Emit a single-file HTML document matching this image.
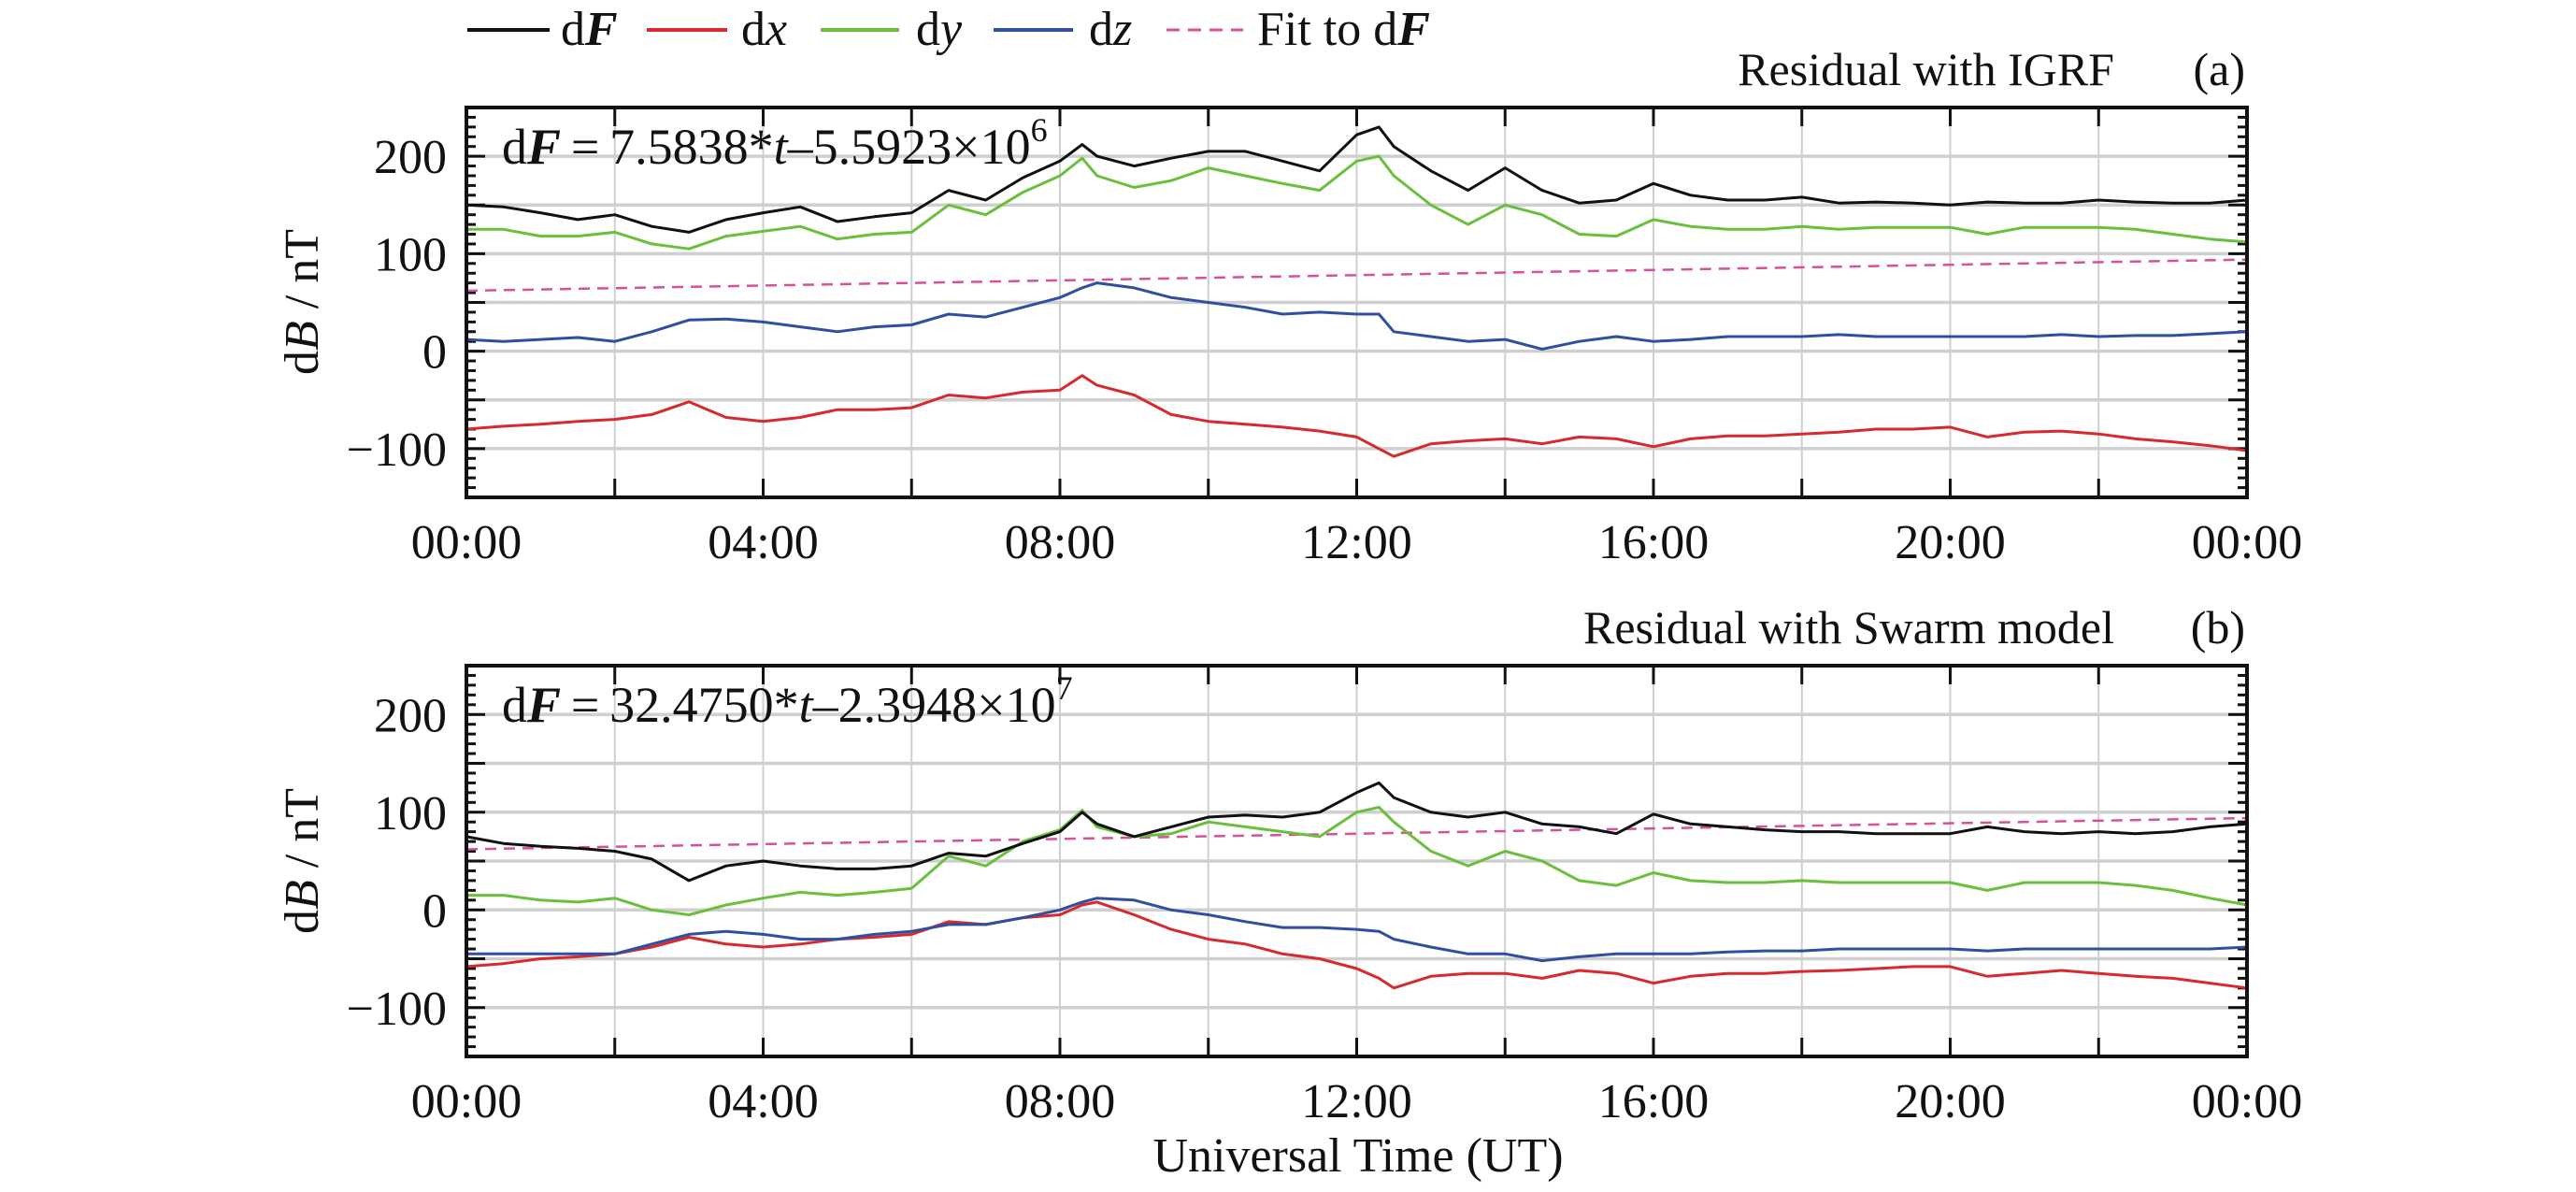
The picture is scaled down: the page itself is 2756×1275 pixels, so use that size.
<!DOCTYPE html>
<html><head><meta charset="utf-8">
<style>
html,body{margin:0;padding:0;background:#fff;}
svg{display:block;font-family:"Liberation Serif",serif;}
</style></head>
<body>
<svg id="chart" width="2756" height="1275" viewBox="0 0 2756 1275" xmlns="http://www.w3.org/2000/svg">
  <g id="legend" font-size="52" fill="#111">
    <g><line x1="500" y1="32" x2="588" y2="32" stroke="#111" stroke-width="4"/><text x="600" y="48">d<tspan font-weight="bold" font-style="italic">F</tspan></text></g>
    <g><line x1="692" y1="32" x2="778" y2="32" stroke="#d62a2e" stroke-width="4"/><text x="793" y="48">d<tspan font-style="italic">x</tspan></text></g>
    <g><line x1="878" y1="32" x2="962" y2="32" stroke="#6abf3d" stroke-width="4"/><text x="980" y="48">d<tspan font-style="italic">y</tspan></text></g>
    <g><line x1="1063" y1="32" x2="1148" y2="32" stroke="#2f4fa0" stroke-width="4"/><text x="1165" y="48">d<tspan font-style="italic">z</tspan></text></g>
    <g><line x1="1248" y1="32" x2="1330" y2="32" stroke="#d9509a" stroke-width="3" stroke-dasharray="14,9"/><text x="1345" y="48">Fit to d<tspan font-weight="bold" font-style="italic">F</tspan></text></g>
  </g>
  <text transform="translate(340,323) rotate(-90)" text-anchor="middle" font-size="52" fill="#111">d<tspan font-style="italic">B</tspan> / nT</text>
  <text transform="translate(340,921) rotate(-90)" text-anchor="middle" font-size="52" fill="#111">d<tspan font-style="italic">B</tspan> / nT</text>
  <text x="1453" y="1253" text-anchor="middle" font-size="52" fill="#111">Universal Time (UT)</text>
</svg>
<script>
// time in hours
const hours = [0,0.5,1,1.5,2,2.5,3,3.5,4,4.5,5,5.5,6,6.5,7,7.5,8,8.3,8.5,9,9.5,10,10.5,11,11.5,12,12.3,12.5,13,13.5,14,14.5,15,15.5,16,16.5,17,17.5,18,18.5,19,19.5,20,20.5,21,21.5,22,22.5,23,23.5,24];
const xTickHours = [0,4,8,12,16,20,24];
const xTickLabels = ["00:00","04:00","08:00","12:00","16:00","20:00","00:00"];
const yTickValues = [200,100,0,-100];
const yTickLabels = ["200","100","0","\u2212100"];
const fitEnds = [62,94];
// Panel (a) Residual with IGRF
const aDF = [150,148,142,135,140,128,122,135,142,148,133,138,142,165,155,178,195,212,200,190,198,205,205,195,185,222,230,210,185,165,188,165,152,155,172,160,155,155,158,152,153,152,150,153,152,152,155,153,152,152,155];
const aDY = [125,125,118,118,122,110,105,118,123,128,115,120,122,150,140,163,180,198,180,168,175,188,180,172,165,195,200,180,150,130,150,140,120,118,135,128,125,125,128,125,127,127,127,120,127,127,127,125,120,115,112];
const aDZ = [12,10,12,14,10,20,32,33,30,25,20,25,27,38,35,45,55,65,70,65,55,50,45,38,40,38,38,20,15,10,12,2,10,15,10,12,15,15,15,17,15,15,15,15,15,17,15,16,16,18,20];
const aDX = [-80,-77,-75,-72,-70,-65,-52,-68,-72,-68,-60,-60,-58,-45,-48,-42,-40,-25,-35,-45,-65,-72,-75,-78,-82,-88,-100,-108,-95,-92,-90,-95,-88,-90,-98,-90,-87,-87,-85,-83,-80,-80,-78,-88,-83,-82,-85,-90,-93,-97,-102];
// Panel (b) Residual with Swarm model
const bDF = [75,68,65,63,60,52,30,45,50,45,42,42,45,58,55,68,80,100,88,75,85,95,97,95,100,120,130,115,100,95,100,88,85,78,98,88,85,82,80,80,78,78,78,85,80,78,80,78,80,85,88];
const bDY = [15,15,10,8,12,0,-5,5,12,18,15,18,22,55,45,70,82,102,85,75,78,90,85,80,75,100,105,90,60,45,60,50,30,25,38,30,28,28,30,28,28,28,28,20,28,28,28,25,20,12,5];
const bDZ = [-45,-45,-45,-45,-45,-35,-25,-22,-25,-30,-30,-25,-22,-15,-15,-8,0,8,12,10,0,-5,-12,-18,-18,-20,-22,-30,-38,-45,-45,-52,-48,-45,-45,-45,-43,-42,-42,-40,-40,-40,-40,-42,-40,-40,-40,-40,-40,-40,-38];
const bDX = [-58,-55,-50,-48,-45,-38,-28,-35,-38,-35,-30,-28,-25,-12,-15,-8,-5,5,8,-5,-20,-30,-35,-45,-50,-60,-70,-80,-68,-65,-65,-70,-62,-65,-75,-68,-65,-65,-63,-62,-60,-58,-58,-68,-65,-62,-65,-68,-70,-75,-80];

const NS = "http://www.w3.org/2000/svg";
const svg = document.getElementById("chart");
const X0 = 499, X1 = 2404, YMIN = -150, YMAX = 250;
function mk(tag, attrs, parent){const e=document.createElementNS(NS,tag);for(const k in attrs)e.setAttribute(k,attrs[k]);(parent||svg).appendChild(e);return e;}
function xs(h){return X0 + (h/24)*(X1-X0);}

function panel(key, top, bottom, title, eqMain, eqExp, series){
  const ys = v => bottom - (v-YMIN)/(YMAX-YMIN)*(bottom-top);
  const g = mk("g",{});
  
  
  // vertical grid every 2h
  for(let h=2; h<24; h+=2){
    const l = mk("line",{x1:xs(h),x2:xs(h),y1:top,y2:bottom,stroke:"#cfcfcf","stroke-width":2},g);
    
    
  }
  for(let v=-100; v<=200; v+=50){
    const l = mk("line",{x1:X0,x2:X1,y1:ys(v),y2:ys(v),stroke:"#cfcfcf","stroke-width":3.5},g);
    
    
  }
  // ticks
  for(let h=2; h<24; h+=2){
    mk("line",{x1:xs(h),x2:xs(h),y1:top,y2:top+20,stroke:"#111","stroke-width":3},g);
    mk("line",{x1:xs(h),x2:xs(h),y1:bottom,y2:bottom-20,stroke:"#111","stroke-width":3},g);
  }
  for(let v=YMIN+10; v<YMAX; v+=10){
    const len = (v%50===0)?20:10;
    mk("line",{x1:X0,x2:X0+len,y1:ys(v),y2:ys(v),stroke:"#111","stroke-width":3},g);
    mk("line",{x1:X1,x2:X1-len,y1:ys(v),y2:ys(v),stroke:"#111","stroke-width":3},g);
  }
  // fit line
  const fit = mk("line",{x1:xs(0),y1:ys(fitEnds[0]),x2:xs(24),y2:ys(fitEnds[1]),stroke:"#d9509a","stroke-width":2.5,"stroke-dasharray":"12,8"},g);
  
  
  series.forEach(s=>{
    const d = s.vals.map((v,i)=>(i?"L":"M")+xs(hours[i]).toFixed(1)+","+ys(v).toFixed(1)).join("");
    const p = mk("path",{d:d,fill:"none",stroke:s.color,"stroke-width":3,"stroke-linejoin":"round"},g);
    
    
  });
  // frame
  const fr = mk("rect",{x:X0,y:top,width:X1-X0,height:bottom-top,fill:"none",stroke:"#111","stroke-width":4},g);
  
  
  // y tick labels
  yTickValues.forEach((v,i)=>{
    const t = mk("text",{x:478,y:ys(v)+18,"text-anchor":"end","font-size":52,fill:"#111"},g);
    t.textContent = yTickLabels[i];
    
    
  });
  // x tick labels
  xTickHours.forEach((h,i)=>{
    const t = mk("text",{x:xs(h),y:bottom+65,"text-anchor":"middle","font-size":52,fill:"#111"},g);
    t.textContent = xTickLabels[i];
    
    
  });
  // title
  const tt = mk("text",{x:2262,y:top-24,"text-anchor":"end","font-size":50,fill:"#111"},g);
  tt.textContent = title;
  
  
  const tl = mk("text",{x:2402,y:top-24,"text-anchor":"end","font-size":50,fill:"#111"},g);
  tl.textContent = "("+key+")";
  
  
  // equation
  const eq = mk("text",{x:537,y:top+60,"font-size":54,fill:"#111"},g);
  
  
  eq.innerHTML = 'd<tspan font-weight="bold" font-style="italic">F</tspan>\u2009=\u2009'+eqMain[0]+'*<tspan font-style="italic">t</tspan>\u2013'+eqMain[1]+'\u00d710<tspan dy="-24" font-size="36">'+eqExp+'</tspan>';
}

panel("a",115,532,"Residual with IGRF",["7.5838","5.5923"],"6",[
  {name:"dx",color:"#d62a2e",vals:aDX},{name:"dz",color:"#2f4fa0",vals:aDZ},
  {name:"dy",color:"#6abf3d",vals:aDY},{name:"df",color:"#111",vals:aDF}]);
panel("b",712,1130,"Residual with Swarm model",["32.4750","2.3948"],"7",[
  {name:"dx",color:"#d62a2e",vals:bDX},{name:"dz",color:"#2f4fa0",vals:bDZ},
  {name:"dy",color:"#6abf3d",vals:bDY},{name:"df",color:"#111",vals:bDF}]);
</script>
</body></html>
